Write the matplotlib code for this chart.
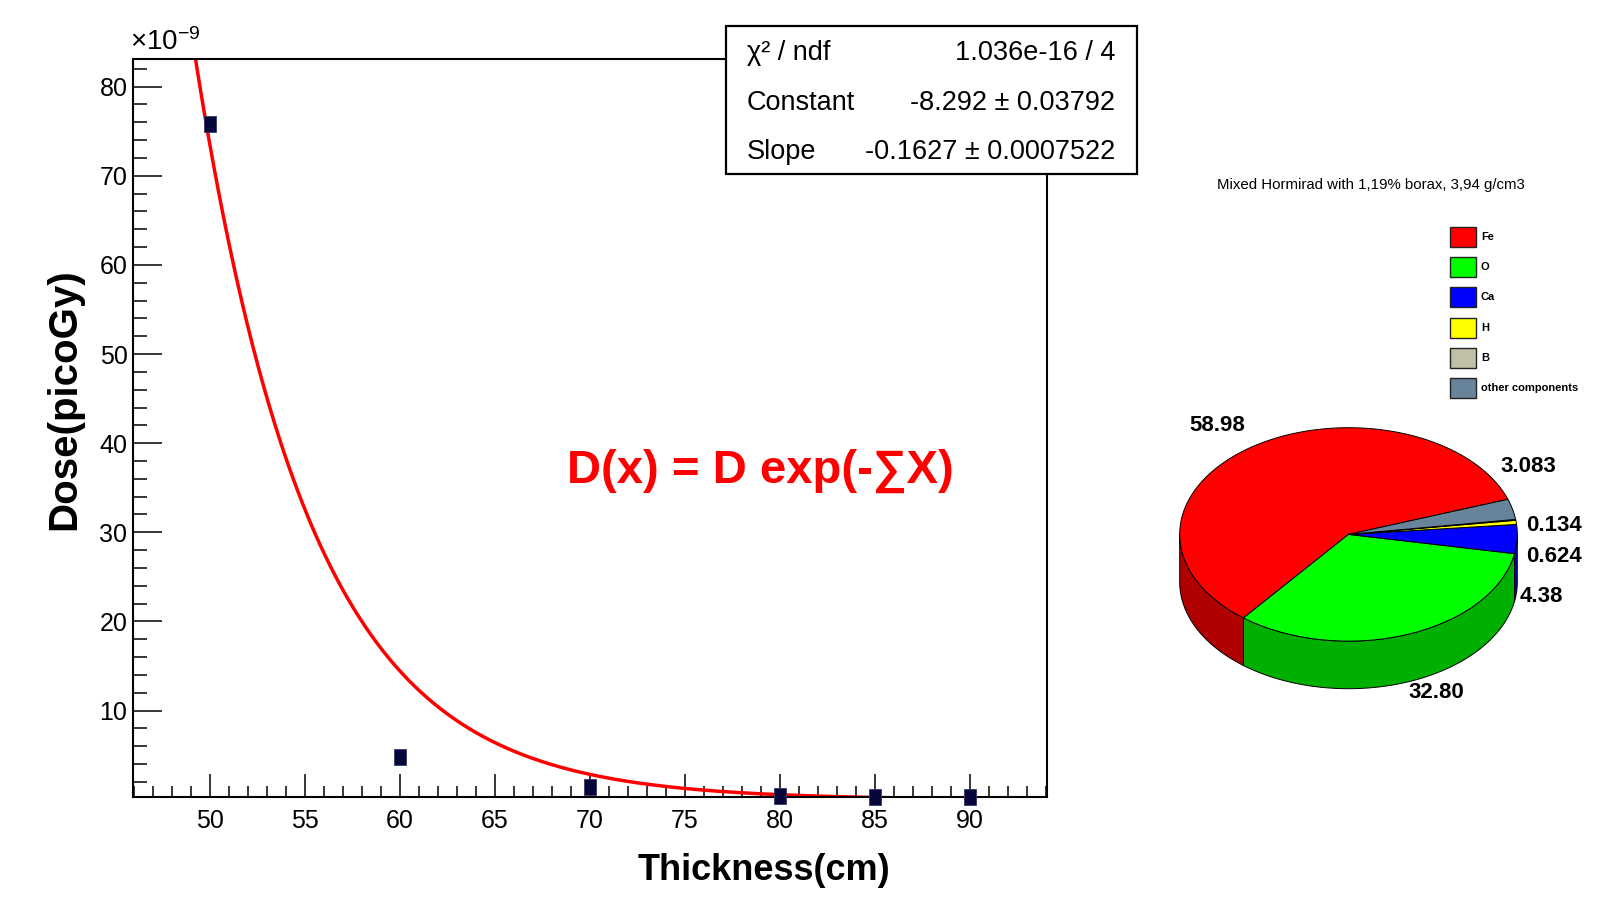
import numpy as np
import matplotlib
matplotlib.use("Agg")
import matplotlib.pyplot as plt
from matplotlib.patches import Polygon, Rectangle
from matplotlib.path import Path
from matplotlib.ticker import MultipleLocator

plt.rcParams['font.family'] = ['Liberation Sans', 'DejaVu Sans']
plt.rcParams['mathtext.fontset'] = 'custom'
plt.rcParams['mathtext.rm'] = 'Liberation Sans'
plt.rcParams['mathtext.it'] = 'Liberation Sans:italic'

# ---------------- data ----------------
thickness_cm = [50, 60, 70, 80, 85, 90]
dose_e9 = [75.8, 4.8, 1.4, 0.45, 0.3, 0.3]
fit_constant = -8.292
fit_slope = -0.1627
fit_range = (46.0, 90.0)
stats_labels = ["χ² / ndf", "Constant", "Slope"]
stats_values = ["1.036e-16 / 4", "-8.292 ± 0.03792", "-0.1627 ± 0.0007522"]
x_ticks = [50, 55, 60, 65, 70, 75, 80, 85, 90]
y_ticks = [10, 20, 30, 40, 50, 60, 70, 80]

pie_title = "Mixed Hormirad with 1,19% borax, 3,94 g/cm3"
pie_names = ["Fe", "O", "Ca", "H", "B", "other components"]
pie_values = [58.98, 32.80, 4.38, 0.624, 0.134, 3.083]
pie_labels = ["58.98", "32.80", "4.38", "0.624", "0.134", "3.083"]
pie_colors = ["#ff0000", "#00ff00", "#0000ff", "#ffff00", "#c1bfa8", "#68849a"]
pie_side_colors = ["#b00000", "#00b000", "#0000c8", "#b0b000", "#8a8978", "#4a5e6e"]

# ---------------- figure ----------------
W, H = 1624, 900
fig = plt.figure(figsize=(W / 100, H / 100), dpi=100)

# main axes (pixel frame: left 133, right 1047, top 59, bottom 797)
axl, axr, axt, axb = 133, 1047, 59, 797
ax = fig.add_axes([axl / W, 1 - axb / H, (axr - axl) / W, (axb - axt) / H])
ax.set_xlim(45.95, 94.05)
ax.set_ylim(0.3, 83.1)

xf = np.linspace(fit_range[0], fit_range[1], 600)
yf = np.exp(fit_constant + fit_slope * xf) / 1e-9
ax.plot(xf, yf, color='#ff0000', lw=2.5, zorder=2)

rect_marker = Path([(-0.38, -0.5), (0.38, -0.5), (0.38, 0.5), (-0.38, 0.5), (-0.38, -0.5)],
                   [Path.MOVETO, Path.LINETO, Path.LINETO, Path.LINETO, Path.CLOSEPOLY])
ax.plot(thickness_cm, dose_e9, linestyle='none', marker=rect_marker, markersize=12,
        color='#06063a', markeredgecolor='#3a3a6a', markeredgewidth=0.6, zorder=3, clip_on=False)

ax.set_xticks(x_ticks)
ax.set_yticks(y_ticks)
ax.xaxis.set_minor_locator(MultipleLocator(1))
ax.yaxis.set_minor_locator(MultipleLocator(2))
ax.tick_params(axis='x', which='major', direction='in', length=16.5, width=1.1, labelsize=18, pad=9,
               top=False)
ax.tick_params(axis='x', which='minor', direction='in', length=8, width=1.1, top=False)
ax.tick_params(axis='y', which='major', direction='in', length=21, width=1.1, labelsize=18, pad=4,
               right=False)
ax.tick_params(axis='y', which='minor', direction='in', length=10, width=1.1, right=False)
for s in ax.spines.values():
    s.set_linewidth(1.5)

ax.set_xlabel("Thickness(cm)", fontsize=26, fontweight='bold')
ax.xaxis.set_label_coords((764 - axl) / (axr - axl), (axb - 870) / (axb - axt))
ax.xaxis.label.set_va('center')
ax.set_ylabel("Dose(picoGy)", fontsize=29, fontweight='bold')
ax.yaxis.set_label_coords((64 - axl) / (axr - axl), (axb - 399) / (axb - axt))
ax.yaxis.label.set_va('center')

ax.text(-0.003, 1.004, r'$\times10^{-9}$', transform=ax.transAxes, fontsize=20,
        ha='left', va='bottom')

# ---------------- overlay in pixel coordinates ----------------
ov = fig.add_axes([0, 0, 1, 1])
ov.set_xlim(0, W)
ov.set_ylim(H, 0)
ov.axis('off')
ov.patch.set_alpha(0)

# stats box
ov.add_patch(Rectangle((726, 26), 411, 148, facecolor='white', edgecolor='black', lw=1.6, zorder=5))
for i, (lab, val) in enumerate(zip(stats_labels, stats_values)):
    yy = 53 + i * 49.5
    ov.text(747, yy, lab, fontsize=19.5, ha='left', va='center', zorder=6)
    ov.text(1115, yy, val, fontsize=19.5, ha='right', va='center', zorder=6)

# formula
ov.text(760, 471, "D(x) = D exp(-∑X)", fontsize=34, fontweight='bold', color='#ff0000',
        ha='center', va='center')

# pie title
ov.text(1371, 185, pie_title, fontsize=10.8, ha='center', va='center')

# legend
for i, (name, col) in enumerate(zip(pie_names, pie_colors)):
    yc = 237 + i * 30.2
    ov.add_patch(Rectangle((1450, yc - 10), 26, 20, facecolor=col, edgecolor='#222222', lw=1.0))
    ov.text(1481, yc, name, fontsize=8.0, fontweight='bold', ha='left', va='center')

# 3D pie
cx, cy, rx, ry, depth = 1348.5, 534.4, 168.8, 106.7, 47.6
start_deg = 19.2
vals = np.array(pie_values)
fr = vals / vals.sum()
edges = start_deg + 360 * np.concatenate([[0], np.cumsum(fr)])


def ell(t_deg, dy=0.0):
    t = np.radians(t_deg)
    return np.column_stack([cx + rx * np.cos(t), cy - ry * np.sin(t) + dy])


# sides (front half: 180..360 degrees, mod 360)
for i in range(len(vals)):
    a, b = edges[i], edges[i + 1]
    for k in (-360, 0, 360):
        lo, hi = max(a + k, 180), min(b + k, 360)
        if hi > lo:
            tt = np.linspace(lo, hi, 80)
            top = ell(tt)
            bot = ell(tt[::-1], depth)
            ov.add_patch(Polygon(np.vstack([top, bot]), closed=True, facecolor=pie_side_colors[i],
                                 edgecolor='black', lw=0.7, zorder=3))

# top faces
for i in range(len(vals)):
    a, b = edges[i], edges[i + 1]
    tt = np.linspace(a, b, max(4, int((b - a) * 2)))
    pts = np.vstack([[cx, cy], ell(tt)])
    ov.add_patch(Polygon(pts, closed=True, facecolor=pie_colors[i], edgecolor='black',
                         lw=0.7, zorder=4))

# value labels: anchored to mid-angle point on ellipse, with pixel nudges
label_offsets = [(-34, -22), (29, 58), (2, 57), (10, 34), (10, 6), (-12, -43)]
label_ha = ['center', 'center', 'left', 'left', 'left', 'left']
for i in range(len(vals)):
    mid = 0.5 * (edges[i] + edges[i + 1])
    p = ell([mid])[0]
    dx, dy = label_offsets[i]
    ov.text(p[0] + dx, p[1] + dy, pie_labels[i], fontsize=16, fontweight='bold',
            ha=label_ha[i], va='center', zorder=6)

fig.savefig("out.png", dpi=100, facecolor='white')
